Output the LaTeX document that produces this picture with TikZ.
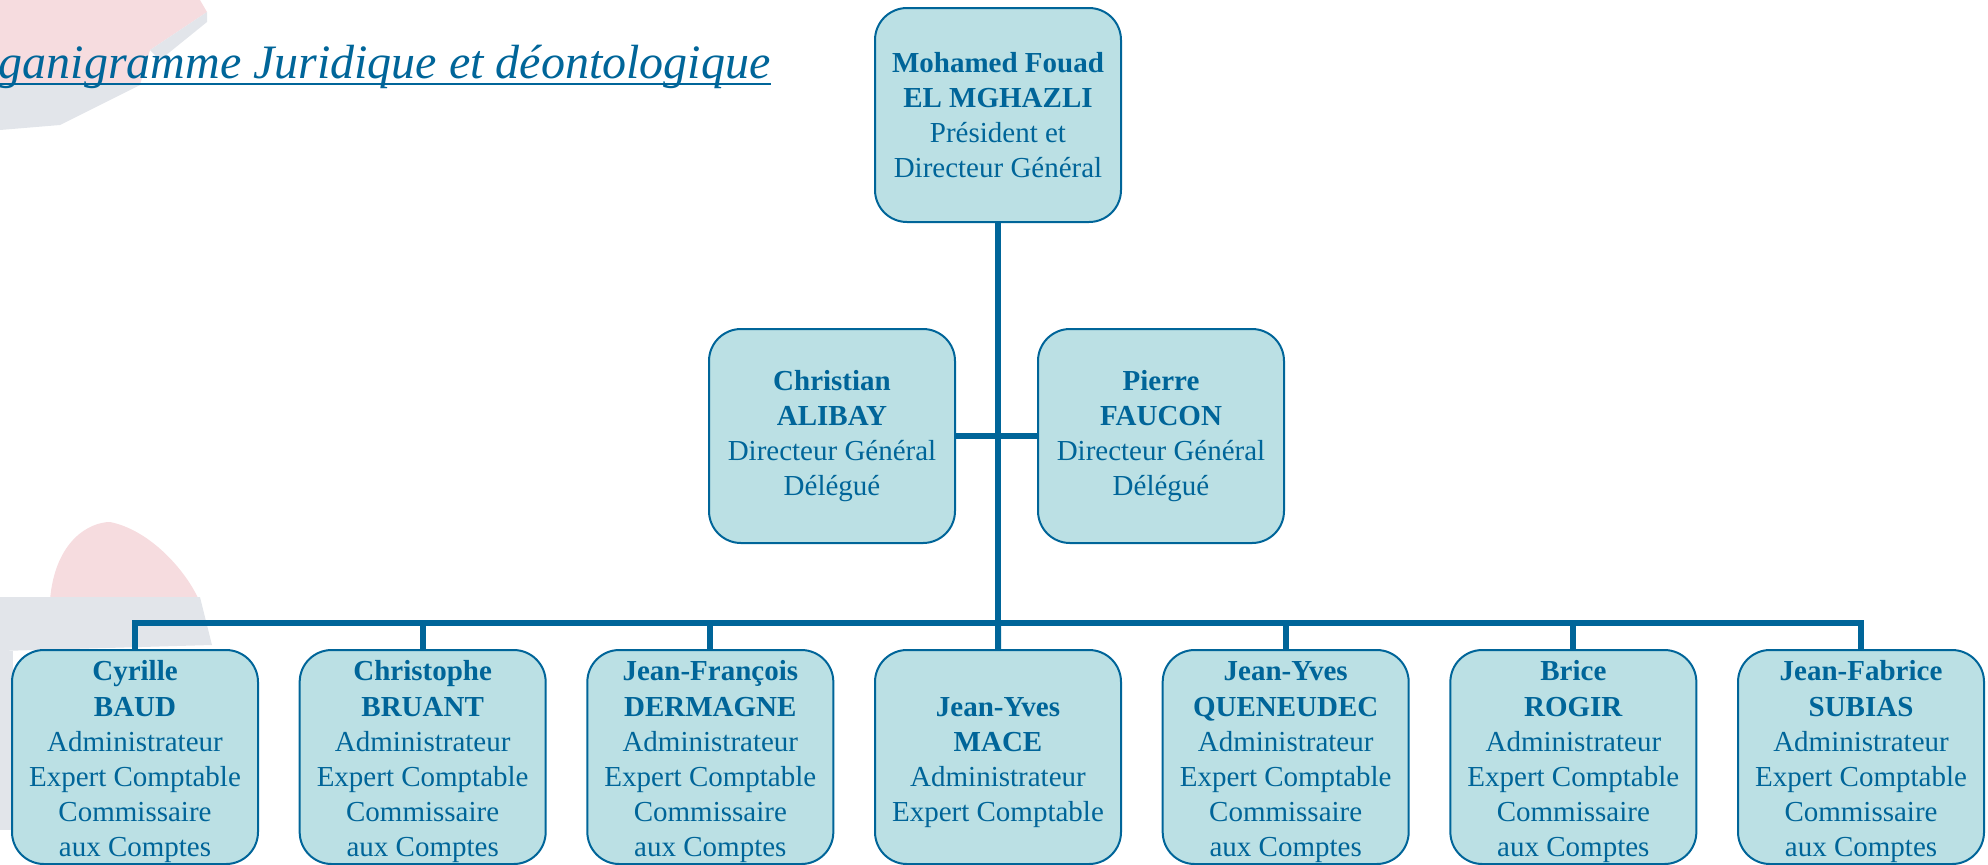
\documentclass[tikz,border=0pt]{standalone}
\usepackage{fontspec}
\setmainfont{Liberation Serif}
\usepackage{tikz}

\definecolor{orgblue}{RGB}{0,101,153}
\definecolor{orgfill}{RGB}{187,224,228}
\definecolor{wmpink}{RGB}{246,220,223}
\definecolor{wmgrey}{RGB}{226,229,234}

\tikzset{
  person/.style={draw=orgblue, line width=1pt, fill=orgfill, rounded corners=16pt,
    minimum width=123pt, minimum height=107pt, inner sep=0pt, text=orgblue,
    align=center, font={\fontsize{14.5}{17.6}\selectfont}},
  link/.style={draw=orgblue, line width=3pt},
  heading/.style={text=orgblue, inner sep=0pt, font={\fontsize{24}{28}\selectfont\itshape}}
}

\newcommand{\cacjob}{Administrateur\\Expert Comptable\\Commissaire\\aux Comptes}
\newcommand{\ecjob}{Administrateur\\Expert Comptable}
\newcommand{\lowstrut}{\rule{0pt}{15pt}}

\begin{document}
\begin{tikzpicture}[x=0.5pt, y=-0.5pt]
            \useasboundingbox (0,0) rectangle (1988,864);

            % Faded picture behind
            \fill[wmpink] (0,0) -- (200,0) -- (207,12) -- (150,50) -- (140,85) -- (0,85) -- cycle;
            \fill[wmgrey] (0,85) -- (140,85) -- (60,125) -- (0,130) -- cycle;
            \fill[wmgrey] (150,50) -- (207,12) -- (207,22) -- (160,60) -- cycle;
            \fill[wmpink] (50,600) .. controls (55,540) and (90,522) .. (110,522)
                .. controls (150,530) and (185,570) .. (198,598) -- cycle;
            \fill[wmgrey] (0,597) -- (200,597) -- (212,645) -- (0,651) -- cycle;
            \fill[wmgrey] (0,651) rectangle (13,830);

            % Title
            \node[heading, anchor=base east] (title) at (771,78) {Organigramme Juridique et déontologique};
            \draw[orgblue, line width=1pt] ([yshift=-3pt]title.base west) -- ([yshift=-3pt]title.base east);

            % Direction
            \node[person] (pdg) at (998,115) {\textbf{Mohamed Fouad}\\\textbf{EL MGHAZLI}\\Président et\\Directeur Général};
            \node[person] (alibay) at (832,436) {\textbf{Christian}\\\textbf{ALIBAY}\\Directeur Général\\Délégué};
            \node[person] (faucon) at (1161,436) {\textbf{Pierre}\\\textbf{FAUCON}\\Directeur Général\\Délégué};

            % Administrators
            \foreach \i/\first/\last/\job in {1/Cyrille/BAUD/\cacjob, 2/Christophe/BRUANT/\cacjob,
                3/Jean-François/DERMAGNE/\cacjob, 4/Jean-Yves/MACE/\ecjob, 5/Jean-Yves/QUENEUDEC/\cacjob,
                6/Brice/ROGIR/\cacjob, 7/Jean-Fabrice/SUBIAS/\cacjob} {
                \node[person] (b\i) at ({135+287.67*(\i-1)}, 757) {\lowstrut\textbf{\first}\\\textbf{\last}\\\job};
            }

            % Links
            \coordinate (hub) at (998,623);
            \draw[link] (pdg) -- (hub);
            \draw[link] (alibay) -- (faucon);
            \draw[link] (b1.north) |- (hub) -| (b7.north);
            \draw[link] (hub) -- (b4);
            \foreach \i in {2,3,5,6} {
                \draw[link] (b\i.north) -- (b\i.north |- hub);
            }
        \end{tikzpicture}
\end{document}
